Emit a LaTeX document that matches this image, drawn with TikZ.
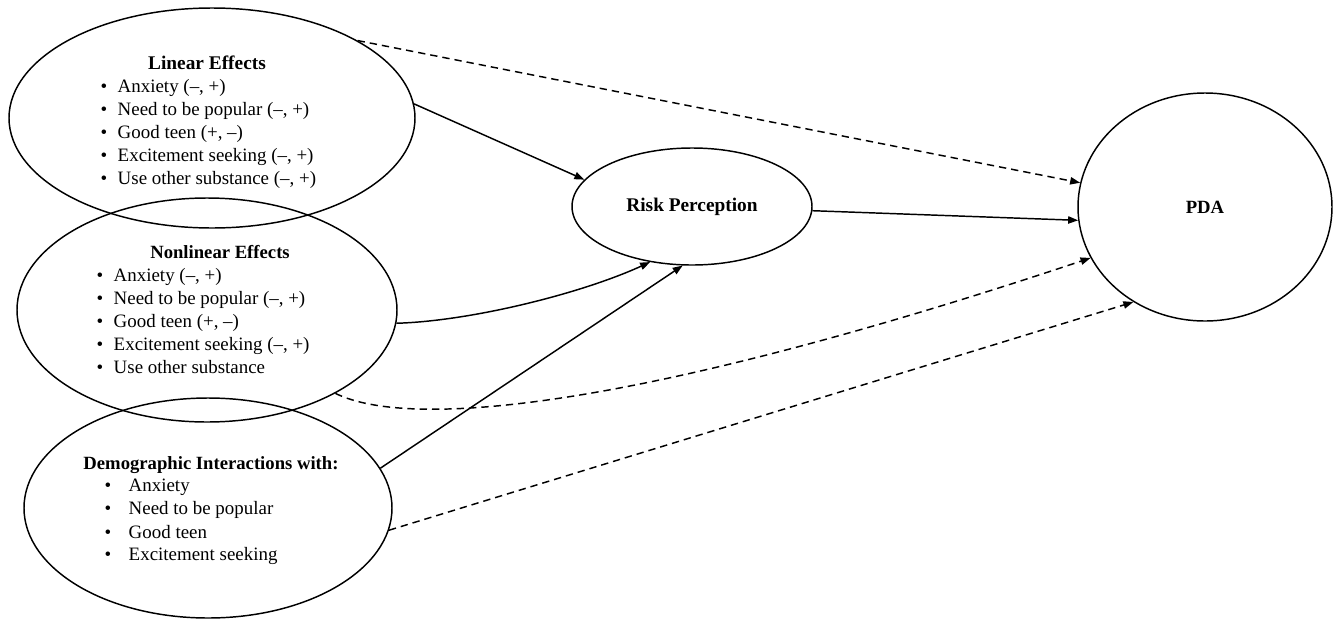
\documentclass[tikz,border=0pt]{standalone}
\usepackage{fontspec}
\setmainfont{Liberation Serif}
\usetikzlibrary{arrows.meta,shapes.geometric}

\newcommand{\bul}[1][12.75pt]{\makebox[#1][l]{\textbullet}}

\tikzset{every picture/.style={line width=1.1pt}}
\tikzset{
  oval/.style={draw, ellipse, inner sep=0pt},
  head/.style={anchor=base, inner sep=0pt, font=\fontsize{14}{17}\selectfont\bfseries},
  item/.style={anchor=base west, inner sep=0pt, font=\fontsize{14.2}{17}\selectfont},
  path/.style={-{Triangle[length=7.5pt,width=5.5pt]}},
  hint/.style={path, dash pattern={on 5.5pt off 3.75pt}}
}

\begin{document}
\begin{tikzpicture}[x=0.75pt,y=0.75pt,yscale=-1,xscale=1]
\useasboundingbox (0,0) rectangle (1339,618);

%Shape: Ellipse [linear]
\node [oval, minimum width=304.5pt, minimum height=165pt] (lin) at (212,118) {};
%Shape: Ellipse [nonlinear]
\node [oval, minimum width=285pt, minimum height=168pt] (nonlin) at (207,310) {};
%Shape: Ellipse [demographic]
\node [oval, minimum width=276pt, minimum height=165pt] (demo) at (208,508) {};
%Shape: Ellipse [risk perception]
\node [oval, minimum width=180pt, minimum height=87.75pt, font=\fontsize{14.5}{17}\selectfont\bfseries] (risk) at (692,206.5) {Risk Perception};
%Shape: Ellipse [pda]
\node [oval, minimum width=190.5pt, minimum height=171pt, font=\fontsize{14}{17}\selectfont\bfseries] (pda) at (1205,207) {PDA};

% Text Node
\node [head, font=\fontsize{14.5}{17}\selectfont\bfseries] (linhead) at (207,69) {Linear Effects};
\node [item] (lin1) at (100,92) {\bul Anxiety (–, +)};
\node [item] (lin2) at (100,115) {\bul Need to be popular (–, +)};
\node [item] (lin3) at (100,138) {\bul Good teen (+, –)};
\node [item] (lin4) at (100,161) {\bul Excitement seeking (–, +)};
\node [item] (lin5) at (100,184) {\bul Use other substance (–, +)};

% Text Node
\node [head] (nonlinhead) at (220,258) {Nonlinear Effects};
\node [item] (nonlin1) at (96,281) {\bul Anxiety (–, +)};
\node [item] (nonlin2) at (96,304) {\bul Need to be popular (–, +)};
\node [item] (nonlin3) at (96,327) {\bul Good teen (+, –)};
\node [item] (nonlin4) at (96,350) {\bul Excitement seeking (–, +)};
\node [item] (nonlin5) at (96,373) {\bul Use other substance};

% Text Node
\node [head] (demohead) at (211,469) {Demographic Interactions with:};
\node [item] (demo1) at (104,491) {\bul[18pt]Anxiety};
\node [item] (demo2) at (104,514) {\bul[18pt]Need to be popular};
\node [item] (demo3) at (104,538) {\bul[18pt]Good teen};
\node [item] (demo4) at (104,560) {\bul[18pt]Excitement seeking};

%Straight Lines
\draw [path] (lin.4) -- (risk.166);
\draw [path] (demo.13) -- (risk.261);
\draw [path] (risk.-2) -- (pda.186);
%Curve Lines
\draw [path] (nonlin.-4) .. controls +(73,-2) and +(-70,32) .. (risk.233.4);

%Dashed Lines
\draw [hint] (lin.28.5) -- (pda.169);
\draw [hint] (demo.-7.3) -- (pda.233);
\draw [hint] (nonlin.-33) .. controls +(75,37) and +(-452,151) .. (pda.204.7);

\end{tikzpicture}
\end{document}
